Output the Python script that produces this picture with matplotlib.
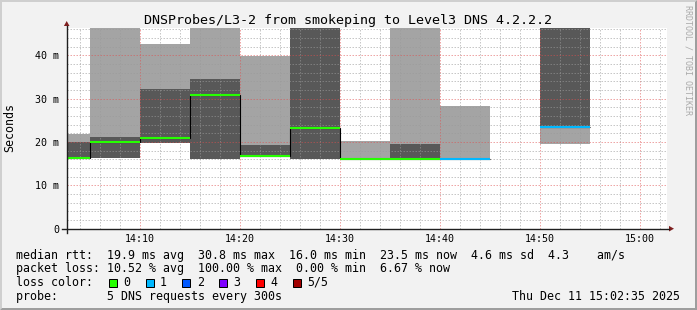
import matplotlib
matplotlib.use("Agg")
import matplotlib.pyplot as plt
from matplotlib.patches import Rectangle, Polygon
import numpy as np

# one 5-minute step each, start in minutes after 14:00
step_start = [0, 5, 10, 15, 20, 25, 30, 35, 40, 45, 50]
# sorted pings of each step (ms): fastest .. slowest
ping_1 = [16.15, 16.2, 19.85, 16.05, 16.45, 16.05, 15.95, 16.0, 15.95, np.nan, 19.55]
ping_2 = [16.15, 16.2, 19.85, 16.05, 16.45, 16.05, 15.95, 16.0, 15.95, np.nan, 23.4]
median = [16.35, 20.05, 21.0, 30.85, 16.85, 23.3, 16.1, 16.1, 16.1, np.nan, 23.5]
ping_4 = [20.1, 21.2, 32.2, 34.5, 19.3, 48.0, 16.2, 19.5, 16.2, np.nan, 48.0]
ping_5 = [21.9, 48.0, 42.5, 48.0, 39.9, 48.0, 20.2, 48.0, 28.2, np.nan, 48.0]
lost = [0, 0, 0, 0, 0, 0, 0, 0, 1, 5, 1]

loss_labels = ["0", "1", "2", "3", "4", "5/5"]
loss_colors = ["#26ff00", "#00b8ff", "#0059ff", "#7e00ff", "#ff0000", "#a10000"]

x_ticks = [10, 20, 30, 40, 50, 60]
x_tick_labels = ["14:10", "14:20", "14:30", "14:40", "14:50", "15:00"]
y_ticks = [0, 10, 20, 30, 40]
y_tick_labels = ["0", "10 m", "20 m", "30 m", "40 m"]

title = "DNSProbes/L3-2 from smokeping to Level3 DNS 4.2.2.2"
rtt_stats = ["19.9 ms avg", "30.8 ms max", "16.0 ms min", "23.5 ms now", "4.6 ms sd", "4.3", "am/s"]
rtt_gaps = ["  ", "  ", "  ", "  ", "  ", "    "]
loss_stats = ["10.52 % avg", "100.00 % max", "0.00 % min", "6.67 % now"]
probe_text = "5 DNS requests every 300s"
stamp = "Thu Dec 11 15:02:35 2025"

W, H = 697, 310
MONO = "DejaVu Sans Mono"

fig = plt.figure(figsize=(W / 100, H / 100), dpi=100, facecolor="#f2f2f2")

left, right, top, bottom = 66.7, 666.7, 28.0, 228.7
ax = fig.add_axes([left / W, 1 - bottom / H, (right - left) / W, (bottom - top) / H])
ax.set_facecolor("white")

step = 5
starts = np.array(step_start, dtype=float)
p1, p2, p4, p5 = (np.array(a) for a in (ping_1, ping_2, ping_4, ping_5))
med = np.array(median)

# smoke: outer pings light, inner pings dark
ax.bar(starts, p5 - p1, bottom=p1, width=step, align="edge", color="#a4a4a4", lw=0, zorder=1)
ax.bar(starts, p4 - p2, bottom=p2, width=step, align="edge", color="#585858", lw=0, zorder=1.1)

# median step line plus loss-coloured caps
edges = np.append(starts, starts[-1] + step)
ax.stairs(med, edges, baseline=None, color="black", lw=0.8, zorder=3)
ax.hlines(med, starts, starts + step, colors=[loss_colors[k] for k in lost], lw=1.5, zorder=3.5)

ax.set_xlim(2 + 2 / 3, 62 + 2 / 3)
ax.set_ylim(0, 46.3)
ax.set_xticks(x_ticks)
ax.set_xticklabels(x_tick_labels, fontfamily=MONO, fontsize=7.2)
ax.set_xticks(np.arange(4, 63, 2), minor=True)
ax.set_yticks(y_ticks)
ax.set_yticklabels(y_tick_labels, fontfamily=MONO, fontsize=7.2)
ax.set_yticks(np.arange(2, 47, 2), minor=True)
ax.tick_params(which="both", length=0)
ax.tick_params(axis="x", pad=3.8)
ax.tick_params(axis="y", pad=5.3)

ax.set_axisbelow(False)
ax.grid(which="minor", color="#9a9a9a", alpha=0.55, lw=0.72, linestyle=(0, (1.5, 1.5)))
ax.grid(which="major", color="#de4f4f", alpha=0.5, lw=0.72, linestyle=(0, (1.5, 1.5)))
for s in ax.spines.values():
    s.set_visible(False)

# overlay in pixel coordinates for frame, axes arrows and legend
ov = fig.add_axes([0, 0, 1, 1])
ov.set_xlim(0, W)
ov.set_ylim(H, 0)
ov.axis("off")
ov.patch.set_alpha(0)

ov.add_patch(Polygon([[0, 0], [W, 0], [W - 2, 2], [2, 2], [2, H - 2], [0, H]], color="#cfcfcf", lw=0))
ov.add_patch(Polygon([[W, 0], [W, H], [0, H], [2, H - 2], [W - 2, H - 2], [W - 2, 2]], color="#9e9e9e", lw=0))

ov.plot([62, 669], [bottom, bottom], color="#1f1f1f", lw=1)
ov.plot([left, left], [233, 26], color="#1f1f1f", lw=1)
ov.add_patch(Polygon([[669, bottom - 2.8], [674, bottom], [669, bottom + 2.8]], color="#801f1f", lw=0))
ov.add_patch(Polygon([[left - 2.8, 26], [left, 21], [left + 2.8, 26]], color="#801f1f", lw=0))

ov.text(W / 2, 24, title, family=MONO, fontsize=9.6, ha="center", va="baseline")
ov.text(10, 128, "Seconds", family=MONO, fontsize=8.4, rotation=90, ha="center", va="center")
ov.text(688, 5, "RRDTOOL / TOBI OETIKER", family=MONO, fontsize=6, color="#aaaaaa",
        rotation=270, ha="center", va="top")

rtt_line = rtt_stats[0] + "".join(g + s for g, s in zip(rtt_gaps, rtt_stats[1:]))

fs = 8.4
ov.text(16, 258.5, "median rtt:  " + rtt_line, family=MONO, fontsize=fs, va="baseline")
ov.text(16, 272.2, "packet loss: " + "  ".join(loss_stats), family=MONO, fontsize=fs, va="baseline")
ov.text(16, 285.9, "loss color:", family=MONO, fontsize=fs, va="baseline")
ov.text(16, 299.6, "probe:       " + probe_text, family=MONO, fontsize=fs, va="baseline")
ov.text(680, 299.6, stamp, family=MONO, fontsize=fs, ha="right", va="baseline")

for i, (lab, col) in enumerate(zip(loss_labels, loss_colors)):
    bx = 108.7 + i * 36.8
    ov.add_patch(Rectangle((bx, 278.5), 8, 8, facecolor=col, edgecolor="black", lw=0.72))
    ov.text(bx + 14.6, 285.9, lab, family=MONO, fontsize=fs, va="baseline")

fig.savefig("out.png", dpi=100, facecolor=fig.get_facecolor())
